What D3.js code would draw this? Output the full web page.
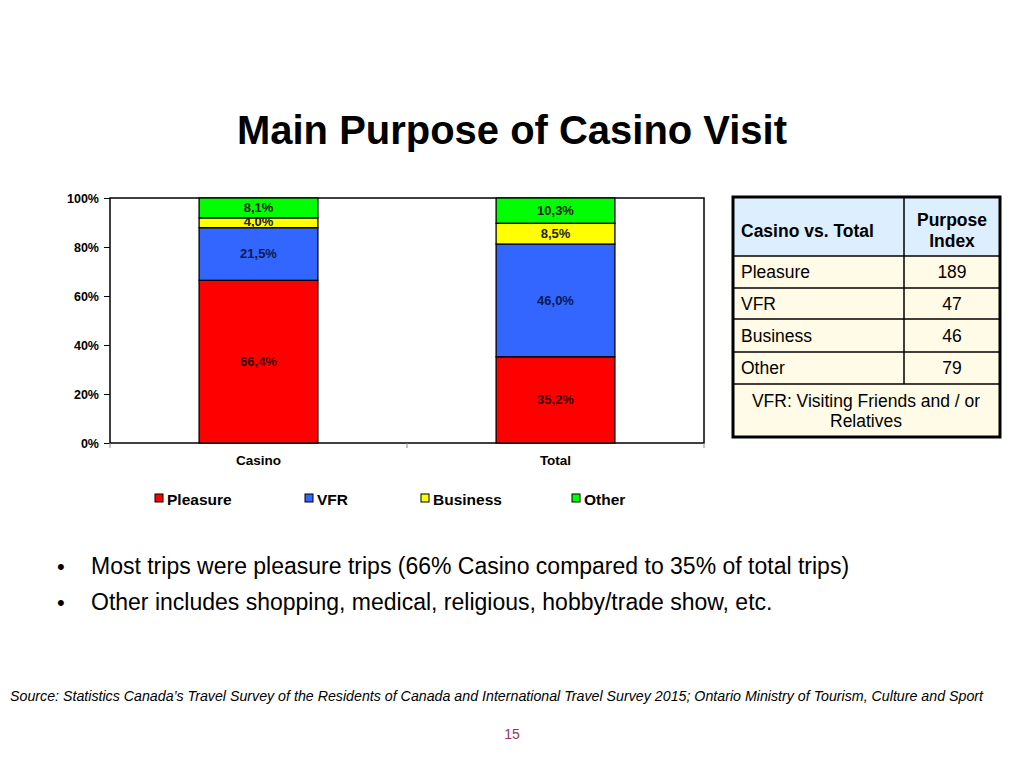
<!DOCTYPE html>
<html><head><meta charset="utf-8">
<script src="https://cdn.jsdelivr.net/npm/d3@7"></script>
<style>body{margin:0;background:#fff;font-family:"Liberation Sans",Arial,sans-serif}</style>
</head><body>
<svg id="c" width="1024" height="768"></svg>
<script>
const categories = ["Casino", "Total"];
const seriesNames = ["Pleasure", "VFR", "Business", "Other"];
const seriesColors = ["#ff0000", "#3366ff", "#ffff00", "#00ff00"];
const pleasure = [66.4, 35.2];
const vfr = [21.5, 46.0];
const business = [4.0, 8.5];
const other = [8.1, 10.3];
const yTicks = [0, 20, 40, 60, 80, 100];
const tableHeader = ["Casino vs. Total", "Purpose Index"];
const tableRows = ["Pleasure", "VFR", "Business", "Other"];
const tableValues = [189, 47, 46, 79];
const tableFooter = "VFR: Visiting Friends and / or Relatives";
const bullets = ["Most trips were pleasure trips (66% Casino compared to 35% of total trips)",
  "Other includes shopping, medical, religious, hobby/trade show, etc."];
const source = "Source: Statistics Canada’s Travel Survey of the Residents of Canada and International Travel Survey 2015; Ontario Ministry of Tourism, Culture and Sport";

const svg = d3.select("#c");
svg.append("text").attr("x", 512).attr("y", 144).attr("text-anchor", "middle")
  .attr("font-size", 40).attr("font-weight", "bold")
  .attr("textLength", 550).attr("lengthAdjust", "spacingAndGlyphs").text("Main Purpose of Casino Visit");

const L = 110, R = 704, T = 198, B = 443;
const x = d3.scaleBand().domain(categories).range([L, R]).paddingInner(0).paddingOuter(0);
const y = d3.scaleLinear().domain([0, 100]).range([B, T]);

const data = categories.map((c, i) => ({cat: c, Pleasure: pleasure[i], VFR: vfr[i], Business: business[i], Other: other[i]}));
const stack = d3.stack().keys(seriesNames)(data);

svg.append("rect").attr("x", L).attr("y", T).attr("width", R - L).attr("height", B - T)
  .attr("fill", "#fff").attr("stroke", "#000").attr("stroke-width", 1.5);

const bw = x.bandwidth() * 0.4;
stack.forEach((s, si) => {
  const g = svg.append("g");
  s.forEach(d => {
    const cx = x(d.data.cat) + x.bandwidth() / 2;
    g.append("rect").attr("x", cx - bw / 2).attr("y", y(d[1])).attr("width", bw)
      .attr("height", y(d[0]) - y(d[1])).attr("fill", seriesColors[si]).attr("stroke", "#000").attr("stroke-width", 1.3);
    const v = d[1] - d[0];
    g.append("text").attr("x", cx).attr("y", (y(d[0]) + y(d[1])) / 2 + 4.5 - (v < 5 ? 1 : 0))
      .attr("text-anchor", "middle").attr("font-size", 13).attr("font-weight", "bold")
      .attr("fill", si === 0 ? "#3a0000" : (si === 1 ? "#0a1a50" : "#222"))
      .text(v.toFixed(1).replace(".", ",") + "%");
  });
});

// y axis
const ya = svg.append("g").attr("transform", `translate(${L},0)`)
  .call(d3.axisLeft(y).tickValues(yTicks).tickSize(6).tickPadding(5).tickFormat(d => d + "%"));
ya.select(".domain").remove();
ya.selectAll("text").attr("font-size", 12.5).attr("font-weight", "bold").attr("fill", "#000")
  .attr("font-family", "Liberation Sans, Arial, sans-serif");
// x axis
const xa = svg.append("g").attr("transform", `translate(0,${B})`)
  .call(d3.axisBottom(x).tickSize(0).tickPadding(12));
xa.select(".domain").remove();
xa.selectAll("text").attr("font-size", 13.5).attr("font-weight", "bold").attr("fill", "#000")
  .attr("font-family", "Liberation Sans, Arial, sans-serif");
[L, (L + R) / 2, R].forEach(px => svg.append("line").attr("x1", px).attr("x2", px).attr("y1", B).attr("y2", B + 5).attr("stroke", "#888"));

// legend
const legX = [155, 305, 421, 572];
seriesNames.forEach((n, i) => {
  svg.append("rect").attr("x", legX[i]).attr("y", 494).attr("width", 8).attr("height", 8)
    .attr("fill", seriesColors[i]).attr("stroke", "#000");
  svg.append("text").attr("x", legX[i] + 12).attr("y", 505).attr("font-size", 15.5).attr("font-weight", "bold").text(n);
});

// table
const tx0 = 733, tx1 = 904, tx2 = 1000;
const rowY = [197, 256, 288, 319, 352, 384, 437];
const tg = svg.append("g");
tg.append("rect").attr("x", tx0).attr("y", rowY[0]).attr("width", tx2 - tx0).attr("height", rowY[1] - rowY[0]).attr("fill", "#ddeeff");
tg.append("rect").attr("x", tx0).attr("y", rowY[1]).attr("width", tx2 - tx0).attr("height", rowY[6] - rowY[1]).attr("fill", "#fffbe6");
for (let i = 1; i < 6; i++) tg.append("line").attr("x1", tx0).attr("x2", tx2).attr("y1", rowY[i]).attr("y2", rowY[i]).attr("stroke", "#000").attr("stroke-width", 1.5);
tg.append("line").attr("x1", tx1).attr("x2", tx1).attr("y1", rowY[0]).attr("y2", rowY[5]).attr("stroke", "#000").attr("stroke-width", 1.5);
tg.append("rect").attr("x", tx0).attr("y", rowY[0]).attr("width", tx2 - tx0).attr("height", rowY[6] - rowY[0])
  .attr("fill", "none").attr("stroke", "#000").attr("stroke-width", 3);
tg.append("text").attr("x", 741).attr("y", 237).attr("font-size", 17.5).attr("font-weight", "bold").text(tableHeader[0]);
tg.append("text").attr("x", 952).attr("y", 226).attr("text-anchor", "middle").attr("font-size", 17.5).attr("font-weight", "bold").text("Purpose");
tg.append("text").attr("x", 952).attr("y", 247).attr("text-anchor", "middle").attr("font-size", 17.5).attr("font-weight", "bold").text("Index");
tableRows.forEach((r, i) => {
  const cy = (rowY[i + 1] + rowY[i + 2]) / 2 + 6;
  tg.append("text").attr("x", 741).attr("y", cy).attr("font-size", 17.5).text(r);
  tg.append("text").attr("x", 952).attr("y", cy).attr("text-anchor", "middle").attr("font-size", 17.5).text(tableValues[i]);
});
tg.append("text").attr("x", 866).attr("y", 407).attr("text-anchor", "middle").attr("font-size", 17.5).text("VFR: Visiting Friends and / or");
tg.append("text").attr("x", 866).attr("y", 427).attr("text-anchor", "middle").attr("font-size", 17.5).text("Relatives");

// bullets
bullets.forEach((b, i) => {
  const yy = 574 + i * 36;
  svg.append("text").attr("x", 57).attr("y", yy).attr("font-size", 22).text("•");
  svg.append("text").attr("x", 91).attr("y", yy).attr("font-size", 23).text(b);
});

svg.append("text").attr("x", 10).attr("y", 701).attr("font-size", 14).attr("font-style", "italic")
  .attr("font-family", "Liberation Sans Narrow, Liberation Sans, Arial, sans-serif")
  .attr("textLength", 973).attr("lengthAdjust", "spacingAndGlyphs").text(source);
svg.append("text").attr("x", 512).attr("y", 739).attr("text-anchor", "middle").attr("font-size", 14)
  .attr("fill", "#993366").attr("font-family", "Liberation Sans Narrow, Liberation Sans, Arial, sans-serif").text("15");
</script>
</body></html>
